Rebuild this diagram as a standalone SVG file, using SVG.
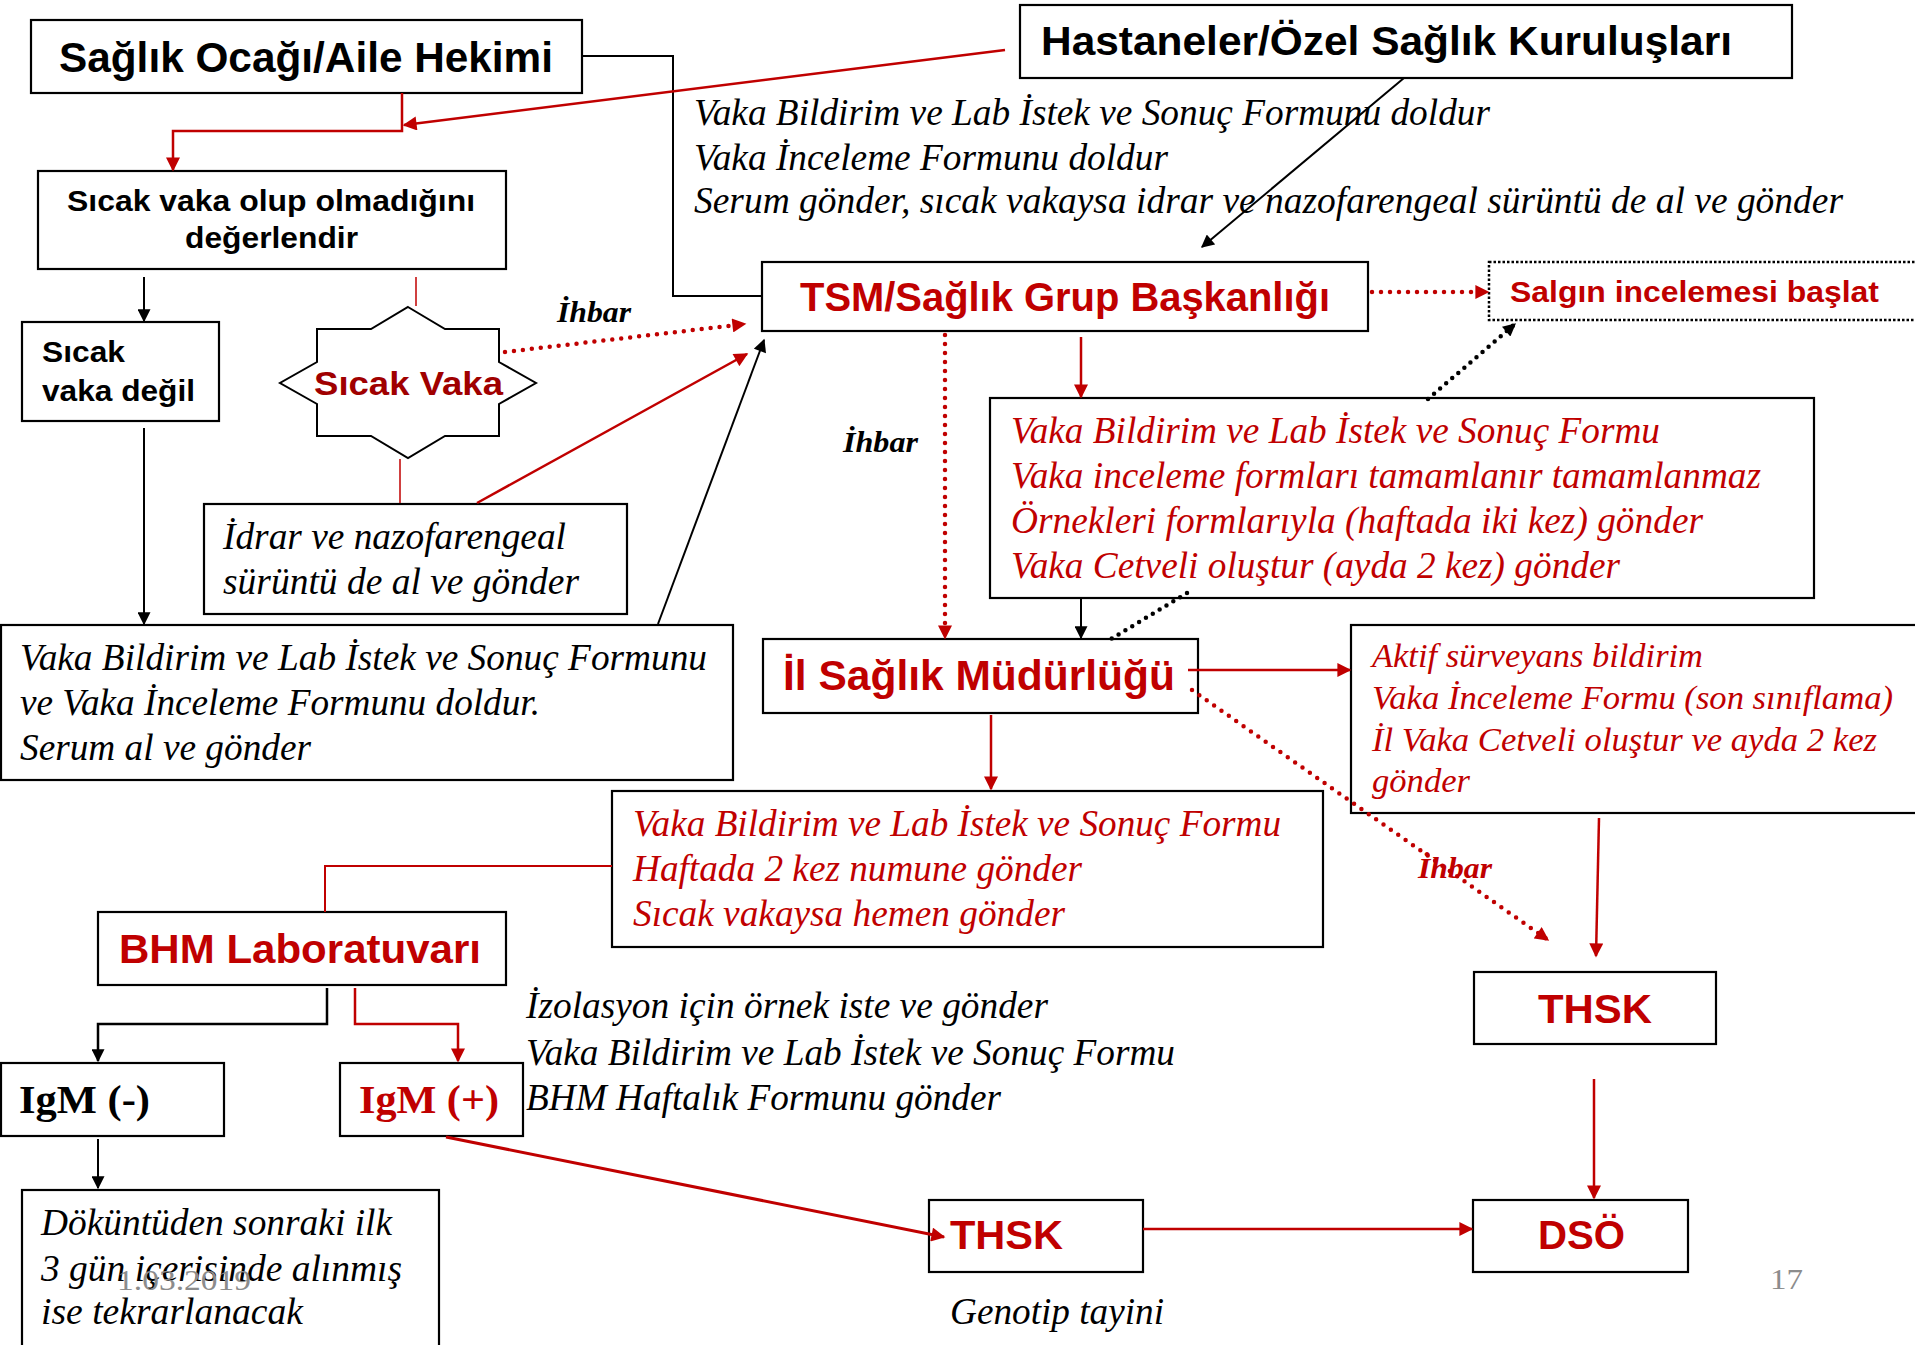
<svg xmlns="http://www.w3.org/2000/svg" width="1915" height="1345" viewBox="0 0 1915 1345">
<defs>
<marker id="ab" viewBox="0 0 10 10" refX="9" refY="5" markerWidth="14" markerHeight="13" markerUnits="userSpaceOnUse" orient="auto"><path d="M0,0 L10,5 L0,10 z" fill="#000"/></marker>
<marker id="ar" viewBox="0 0 10 10" refX="9" refY="5" markerWidth="15" markerHeight="14" markerUnits="userSpaceOnUse" orient="auto"><path d="M0,0 L10,5 L0,10 z" fill="#C00000"/></marker>
</defs>
<style>
.box{fill:#fff;stroke:#000;stroke-width:2.2}
.hb{font-family:"Liberation Sans",Arial,sans-serif;font-weight:bold;fill:#000}
.hr{font-family:"Liberation Sans",Arial,sans-serif;font-weight:bold;fill:#C00000}
.it{font-family:"Liberation Serif","Times New Roman",serif;font-style:italic;font-size:37px;fill:#000}
.itr{font-family:"Liberation Serif","Times New Roman",serif;font-style:italic;font-size:37px;fill:#C00000}
.ihb{font-family:"Liberation Serif","Times New Roman",serif;font-style:italic;font-weight:bold;font-size:29px}
.tb{font-family:"Liberation Serif","Times New Roman",serif;font-weight:bold;font-size:41px}
.gray{font-family:"Liberation Serif","Times New Roman",serif;font-size:30px;fill:#8c8c8c}
.lk{fill:none;stroke:#000;stroke-width:2}
.lr{fill:none;stroke:#C00000;stroke-width:2.5}
.dr{fill:none;stroke:#C00000;stroke-width:4.5;stroke-linecap:round;stroke-dasharray:0 9}
.dk{fill:none;stroke:#000;stroke-width:4.5;stroke-linecap:round;stroke-dasharray:0 8}
</style>
<rect width="1915" height="1345" fill="#fff"/>

<g id="saglik-ocagi">
<rect class="box" x="31" y="20" width="551" height="73"/>
<text class="hb" x="59" y="72" font-size="42" textLength="494" lengthAdjust="spacingAndGlyphs">Sağlık Ocağı/Aile Hekimi</text>
</g>

<g id="hastaneler">
<rect class="box" x="1020" y="5" width="772" height="73"/>
<text class="hb" x="1041" y="55" font-size="40" textLength="691" lengthAdjust="spacingAndGlyphs">Hastaneler/Özel Sağlık Kuruluşları</text>
</g>

<g id="hastaneler-text">
<text class="it" x="694" y="125" textLength="796" lengthAdjust="spacingAndGlyphs">Vaka Bildirim ve Lab İstek ve Sonuç Formunu doldur</text>
<text class="it" x="694" y="170" textLength="474" lengthAdjust="spacingAndGlyphs">Vaka İnceleme Formunu doldur</text>
<text class="it" x="694" y="213" textLength="1149" lengthAdjust="spacingAndGlyphs">Serum gönder, sıcak vakaysa idrar ve nazofarengeal sürüntü de al ve gönder</text>
</g>

<g id="sicak-vaka-degerlendir">
<rect class="box" x="38" y="171" width="468" height="98"/>
<text class="hb" x="67" y="211" font-size="30" textLength="408" lengthAdjust="spacingAndGlyphs">Sıcak vaka olup olmadığını</text>
<text class="hb" x="185" y="248" font-size="30" textLength="173" lengthAdjust="spacingAndGlyphs">değerlendir</text>
</g>

<g id="sicak-vaka-degil">
<rect class="box" x="22" y="322" width="197" height="99"/>
<text class="hb" x="42" y="362" font-size="30" textLength="83" lengthAdjust="spacingAndGlyphs">Sıcak</text>
<text class="hb" x="42" y="401" font-size="30" textLength="153" lengthAdjust="spacingAndGlyphs">vaka değil</text>
</g>

<g id="sicak-vaka">
<polygon points="408,307 445,329 499,329 499,362 536,383 499,404 499,436 445,436 408,458 371,436 317,436 317,404 280,383 317,362 317,329 371,329" fill="#fff" stroke="#000" stroke-width="2"/>
<text class="hr" x="314" y="395" font-size="33" style="fill:#A00000" textLength="189" lengthAdjust="spacingAndGlyphs">Sıcak Vaka</text>
</g>

<g id="ihbar-1">
<text class="ihb" x="557" y="322" textLength="74" lengthAdjust="spacingAndGlyphs">İhbar</text>
</g>

<g id="idrar">
<rect class="box" x="204" y="504" width="423" height="110"/>
<text class="it" x="223" y="549" textLength="343" lengthAdjust="spacingAndGlyphs">İdrar ve nazofarengeal</text>
<text class="it" x="223" y="594" textLength="356" lengthAdjust="spacingAndGlyphs">sürüntü de al ve gönder</text>
</g>

<g id="vaka-bildirim-doldur">
<rect class="box" x="1" y="625" width="732" height="155"/>
<text class="it" x="20" y="670" textLength="687" lengthAdjust="spacingAndGlyphs">Vaka Bildirim ve Lab İstek ve Sonuç Formunu</text>
<text class="it" x="20" y="715" textLength="520" lengthAdjust="spacingAndGlyphs">ve Vaka İnceleme Formunu doldur.</text>
<text class="it" x="20" y="760" textLength="291" lengthAdjust="spacingAndGlyphs">Serum al ve gönder</text>
</g>

<g id="tsm">
<rect class="box" x="762" y="262" width="606" height="69"/>
<text class="hr" x="800" y="311" font-size="41" textLength="530" lengthAdjust="spacingAndGlyphs">TSM/Sağlık Grup Başkanlığı</text>
</g>

<g id="salgin">
<rect x="1489" y="262" width="460" height="58" fill="#fff" stroke="#000" stroke-width="2.5" stroke-dasharray="2.5 2"/>
<text class="hr" x="1510" y="302" font-size="29" textLength="369" lengthAdjust="spacingAndGlyphs">Salgın incelemesi başlat</text>
</g>

<g id="ihbar-2">
<text class="ihb" x="843" y="452" textLength="75" lengthAdjust="spacingAndGlyphs">İhbar</text>
</g>

<g id="tsm-formlar">
<rect class="box" x="990" y="398" width="824" height="200"/>
<text class="itr" x="1011" y="443" textLength="649" lengthAdjust="spacingAndGlyphs">Vaka Bildirim ve Lab İstek ve Sonuç Formu</text>
<text class="itr" x="1011" y="488" textLength="750" lengthAdjust="spacingAndGlyphs">Vaka inceleme formları tamamlanır tamamlanmaz</text>
<text class="itr" x="1011" y="533" textLength="692" lengthAdjust="spacingAndGlyphs">Örnekleri formlarıyla (haftada iki kez) gönder</text>
<text class="itr" x="1011" y="578" textLength="609" lengthAdjust="spacingAndGlyphs">Vaka Cetveli oluştur (ayda 2 kez) gönder</text>
</g>

<g id="il-saglik">
<rect class="box" x="763" y="639" width="435" height="74"/>
<text class="hr" x="783" y="690" font-size="43" textLength="392" lengthAdjust="spacingAndGlyphs">İl Sağlık Müdürlüğü</text>
</g>

<g id="aktif">
<rect class="box" x="1351" y="625" width="600" height="188"/>
<text class="itr" x="1372" y="667" style="font-size:34px" textLength="331" lengthAdjust="spacingAndGlyphs">Aktif sürveyans bildirim</text>
<text class="itr" x="1372" y="709" style="font-size:34px" textLength="521" lengthAdjust="spacingAndGlyphs">Vaka İnceleme Formu (son sınıflama)</text>
<text class="itr" x="1372" y="751" style="font-size:34px" textLength="505" lengthAdjust="spacingAndGlyphs">İl Vaka Cetveli oluştur ve ayda 2 kez</text>
<text class="itr" x="1372" y="792" style="font-size:34px" textLength="98" lengthAdjust="spacingAndGlyphs">gönder</text>
</g>

<g id="ihbar-3">
<text class="ihb" x="1418" y="878" fill="#C00000" textLength="74" lengthAdjust="spacingAndGlyphs">İhbar</text>
</g>

<g id="il-formlar">
<rect class="box" x="612" y="791" width="711" height="156"/>
<text class="itr" x="633" y="836" textLength="648" lengthAdjust="spacingAndGlyphs">Vaka Bildirim ve Lab İstek ve Sonuç Formu</text>
<text class="itr" x="633" y="881" textLength="449" lengthAdjust="spacingAndGlyphs">Haftada 2 kez numune gönder</text>
<text class="itr" x="633" y="926" textLength="432" lengthAdjust="spacingAndGlyphs">Sıcak vakaysa hemen gönder</text>
</g>

<g id="bhm">
<rect class="box" x="98" y="912" width="408" height="73"/>
<text class="hr" x="119" y="963" font-size="40" textLength="362" lengthAdjust="spacingAndGlyphs">BHM Laboratuvarı</text>
</g>

<g id="bhm-text">
<text class="it" x="526" y="1018" textLength="522" lengthAdjust="spacingAndGlyphs">İzolasyon için örnek iste ve gönder</text>
<text class="it" x="526" y="1065" textLength="649" lengthAdjust="spacingAndGlyphs">Vaka Bildirim ve Lab İstek ve Sonuç Formu</text>
<text class="it" x="526" y="1110" textLength="475" lengthAdjust="spacingAndGlyphs">BHM Haftalık Formunu gönder</text>
</g>

<g id="igm-neg">
<rect class="box" x="1" y="1063" width="223" height="73"/>
<text class="tb" x="19" y="1113" fill="#000" textLength="131" lengthAdjust="spacingAndGlyphs">IgM (-)</text>
</g>

<g id="igm-pos">
<rect class="box" x="340" y="1063" width="183" height="73"/>
<text class="tb" x="359" y="1113" fill="#C00000" textLength="140" lengthAdjust="spacingAndGlyphs">IgM (+)</text>
</g>

<g id="dokuntuden">
<rect class="box" x="22" y="1190" width="417" height="160"/>
<text class="it" x="41" y="1235" textLength="351" lengthAdjust="spacingAndGlyphs">Döküntüden sonraki ilk</text>
<text class="it" x="41" y="1281" textLength="361" lengthAdjust="spacingAndGlyphs">3 gün içerisinde alınmış</text>
<text class="it" x="41" y="1324" textLength="262" lengthAdjust="spacingAndGlyphs">ise tekrarlanacak</text>
</g>

<g id="thsk-1">
<rect class="box" x="1474" y="972" width="242" height="72"/>
<text class="hr" x="1538" y="1023" font-size="40" textLength="114" lengthAdjust="spacingAndGlyphs">THSK</text>
</g>

<g id="thsk-2">
<rect class="box" x="929" y="1200" width="214" height="72"/>
<text class="hr" x="950" y="1249" font-size="40" textLength="113" lengthAdjust="spacingAndGlyphs">THSK</text>
</g>

<g id="dso">
<rect class="box" x="1473" y="1200" width="215" height="72"/>
<text class="hr" x="1538" y="1249" font-size="40" textLength="87" lengthAdjust="spacingAndGlyphs">DSÖ</text>
</g>

<g id="genotip">
<text class="it" x="950" y="1324" textLength="214" lengthAdjust="spacingAndGlyphs">Genotip tayini</text>
</g>

<g id="footer">
<text class="gray" x="117" y="1290" textLength="134" lengthAdjust="spacingAndGlyphs">1.03.2019</text>
<text class="gray" x="1770" y="1289" textLength="33" lengthAdjust="spacingAndGlyphs">17</text>
</g>

<g id="connectors">
<polyline class="lk" points="582,56 673,56 673,296 762,296"/>
<line class="lr" x1="1005" y1="50" x2="404" y2="125" marker-end="url(#ar)"/>
<polyline class="lr" points="402,93 402,131 173,131 173,170" marker-end="url(#ar)"/>
<line class="lk" x1="144" y1="277" x2="144" y2="321" marker-end="url(#ab)"/>
<line class="lr" x1="416" y1="277" x2="416" y2="306" style="stroke-width:1.5"/>
<line class="lr" x1="400" y1="459" x2="400" y2="503" style="stroke-width:1.5"/>
<line class="lk" x1="144" y1="428" x2="144" y2="624" marker-end="url(#ab)"/>
<line class="lr" x1="477" y1="503" x2="747" y2="354" marker-end="url(#ar)"/>
<line class="dr" x1="505" y1="352" x2="745" y2="324" marker-end="url(#ar)"/>
<line class="lk" x1="658" y1="624" x2="764" y2="340" marker-end="url(#ab)"/>
<line class="lk" x1="1404" y1="78" x2="1202" y2="247" marker-end="url(#ab)"/>
<line class="dr" x1="1372" y1="292" x2="1488" y2="292" marker-end="url(#ar)"/>
<line class="dk" x1="1428" y1="399" x2="1515" y2="324" marker-end="url(#ab)"/>
<line class="dr" x1="945" y1="335" x2="945" y2="638" marker-end="url(#ar)"/>
<line class="lr" x1="1081" y1="337" x2="1081" y2="397" marker-end="url(#ar)"/>
<line class="lk" x1="1081" y1="598" x2="1081" y2="638" marker-end="url(#ab)"/>
<line class="dk" x1="1187" y1="593" x2="1111" y2="639"/>
<line class="lr" x1="1188" y1="670" x2="1350" y2="670" marker-end="url(#ar)"/>
<line class="dr" x1="1192" y1="690" x2="1548" y2="940" marker-end="url(#ar)"/>
<line class="lr" x1="1599" y1="818" x2="1596" y2="956" marker-end="url(#ar)"/>
<line class="lr" x1="1594" y1="1079" x2="1594" y2="1198" marker-end="url(#ar)"/>
<line class="lr" x1="991" y1="715" x2="991" y2="789" marker-end="url(#ar)"/>
<polyline class="lr" points="612,866 325,866 325,912" style="stroke-width:2"/>
<polyline class="lk" points="327,988 327,1024 98,1024 98,1061" style="stroke-width:2.5" marker-end="url(#ab)"/>
<polyline class="lr" points="355,988 355,1024 458,1024 458,1061" marker-end="url(#ar)"/>
<line class="lk" x1="98" y1="1139" x2="98" y2="1188" marker-end="url(#ab)"/>
<line class="lr" x1="446" y1="1137" x2="944" y2="1237" style="stroke-width:3" marker-end="url(#ar)"/>
<line class="lr" x1="1143" y1="1229" x2="1472" y2="1229" marker-end="url(#ar)"/>
</g>
</svg>
